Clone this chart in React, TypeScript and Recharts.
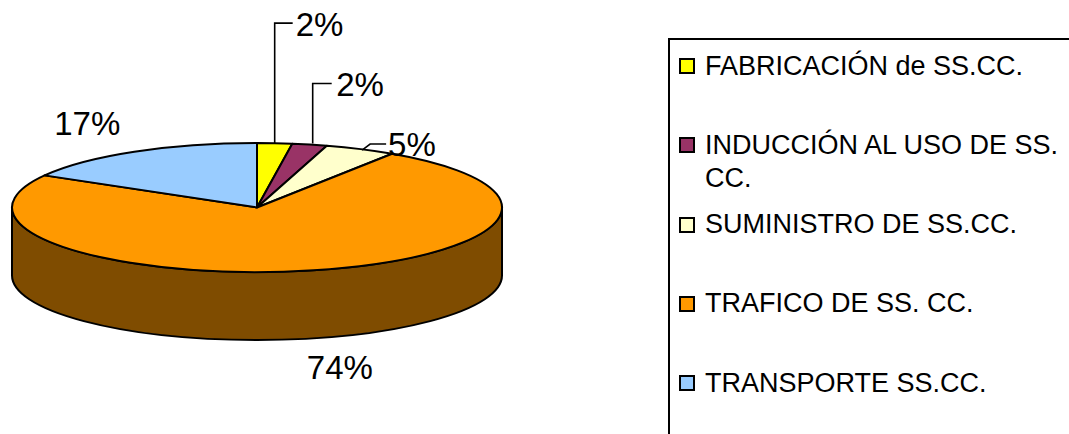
import React from 'react';
import { PieChart, Pie } from 'recharts';

// ---- data ----
const CATEGORIES = [
  'FABRICACIÓN de SS.CC.',
  'INDUCCIÓN AL USO DE SS. CC.',
  'SUMINISTRO DE SS.CC.',
  'TRAFICO DE SS. CC.',
  'TRANSPORTE SS.CC.',
];
const VALUES = [2.3, 2.3, 4.7, 74.0, 16.7];
const COLORS = ['#FFFF00', '#993366', '#FFFFCC', '#FF9900', '#99CCFF'];
const SIDE_COLORS = ['#7F7F00', '#4C1933', '#7F7F66', '#7F4C00', '#4C667F'];

const pieData = CATEGORIES.map((name, i) => ({ name, value: VALUES[i] }));

// ---- layout / style ----
const FONT = '"Liberation Sans", Arial, sans-serif';
const CX = 257;
const CY = 207.5;
const RADIUS = 245;
const TILT = 64.5 / 245;
const DEPTH = 68;
const RAD = Math.PI / 180;
const LABEL_FONT = 33;
const EDGE = 2;

// leader line points & text offset relative to the slice's rim anchor
const LABEL_LAYOUT: { pts: number[][]; tx: number; ty: number; anchor: string }[] = [
  { pts: [[0, 0], [0, -120], [18, -120]], tx: 21, ty: -119, anchor: 'start' },
  { pts: [[3, -1], [3, -61], [22, -61]], tx: 26.5, ty: -60.5, anchor: 'start' },
  { pts: [[1.5, 1], [9.5, -5], [25.5, -5]], tx: 27.5, ty: -5, anchor: 'start' },
  { pts: [], tx: 26.4, ty: 28.7, anchor: 'middle' },
  { pts: [], tx: -47, ty: -28, anchor: 'middle' },
];

function pt(cx: number, cy: number, rx: number, ry: number, deg: number) {
  return [cx + rx * Math.cos(deg * RAD), cy - ry * Math.sin(deg * RAD)];
}

function renderSlice3D(props: any) {
  const { cx, cy, outerRadius, startAngle, endAngle, index } = props;
  const rx = outerRadius;
  const ry = outerRadius * TILT;
  const lo = Math.min(startAngle, endAngle);
  const hi = Math.max(startAngle, endAngle);
  const sides: React.ReactNode[] = [];
  [[-540, -360], [-180, 0], [180, 360]].forEach(([a, b], k) => {
    const s = Math.max(lo, a);
    const e = Math.min(hi, b);
    if (e > s) {
      const [x1, y1] = pt(cx, cy, rx, ry, s);
      const [x2, y2] = pt(cx, cy, rx, ry, e);
      const d = `M${x1},${y1} A${rx},${ry} 0 0 0 ${x2},${y2} L${x2},${y2 + DEPTH} A${rx},${ry} 0 0 1 ${x1},${y1 + DEPTH} Z`;
      sides.push(
        <path key={`s${k}`} d={d} fill={SIDE_COLORS[index]} stroke="#000" strokeWidth={EDGE} strokeLinejoin="round" />
      );
    }
  });
  const [sx, sy] = pt(cx, cy, rx, ry, startAngle);
  const [ex, ey] = pt(cx, cy, rx, ry, endAngle);
  const large = Math.abs(endAngle - startAngle) > 180 ? 1 : 0;
  const sweep = endAngle < startAngle ? 1 : 0;
  const top = `M${cx},${cy} L${sx},${sy} A${rx},${ry} 0 ${large} ${sweep} ${ex},${ey} Z`;
  return (
    <g key={`slice-${index}`}>
      {sides}
      <path d={top} fill={COLORS[index]} stroke="#000" strokeWidth={EDGE} strokeLinejoin="round" />
    </g>
  );
}

function renderPercentLabel(props: any) {
  const { cx, cy, outerRadius, midAngle, percent, index } = props;
  const rx = outerRadius;
  const ry = outerRadius * TILT;
  let [ax, ay] = pt(cx, cy, rx, ry, midAngle);
  if (Math.sin(midAngle * RAD) < 0) ay += DEPTH;
  const lay = LABEL_LAYOUT[index];
  const text = `${Math.round(percent * 100)}%`;
  const poly = lay.pts.map(([dx, dy]) => `${ax + dx},${ay + dy}`).join(' ');
  return (
    <g key={`lbl-${index}`}>
      {lay.pts.length > 0 && (
        <polyline points={poly} fill="none" stroke="#000" strokeWidth={1.6} />
      )}
      <text
        x={ax + lay.tx}
        y={ay + lay.ty + 0.358 * LABEL_FONT}
        textAnchor={lay.anchor as any}
        fontFamily={FONT}
        fontSize={LABEL_FONT}
        fill="#000"
        stroke="none"
      >
        {text}
      </text>
    </g>
  );
}

export default function App() {
  return (
    <div style={{ position: 'absolute', left: 0, top: 0, width: 1069, height: 434, overflow: 'hidden', background: '#fff' }}>
      <div style={{ position: 'absolute', left: 0, top: 0 }}>
        <PieChart width={1069} height={434} margin={{ top: 0, right: 0, bottom: 0, left: 0 }}>
          <Pie
            data={pieData}
            dataKey="value"
            nameKey="name"
            cx={CX}
            cy={CY}
            outerRadius={RADIUS}
            startAngle={90}
            endAngle={-270}
            fill="none"
            stroke="none"
            label={renderSlice3D}
            labelLine={false}
            isAnimationActive={false}
          />
          <Pie
            data={pieData}
            dataKey="value"
            nameKey="name"
            cx={CX}
            cy={CY}
            outerRadius={RADIUS}
            startAngle={90}
            endAngle={-270}
            fill="none"
            stroke="none"
            label={renderPercentLabel}
            labelLine={false}
            legendType="none"
            isAnimationActive={false}
          />
        </PieChart>
      </div>
      <div
        style={{
          position: 'absolute',
          left: 668,
          top: 38,
          width: 500,
          height: 500,
          borderTop: '2px solid #000',
          borderLeft: '2px solid #000',
          boxSizing: 'border-box',
        }}
      />
      {CATEGORIES.map((name, i) => {
        const cyItem = 66 + i * 79.25;
        return (
          <React.Fragment key={name}>
            <div
              style={{
                position: 'absolute',
                left: 679,
                top: cyItem - 8,
                width: 12,
                height: 12,
                border: '2px solid #000',
                background: COLORS[i],
              }}
            />
            <div
              style={{
                position: 'absolute',
                left: 705,
                top: cyItem - 16.5,
                width: 364,
                fontFamily: FONT,
                fontSize: 27,
                lineHeight: '33px',
                color: '#000',
              }}
            >
              {name}
            </div>
          </React.Fragment>
        );
      })}
    </div>
  );
}
